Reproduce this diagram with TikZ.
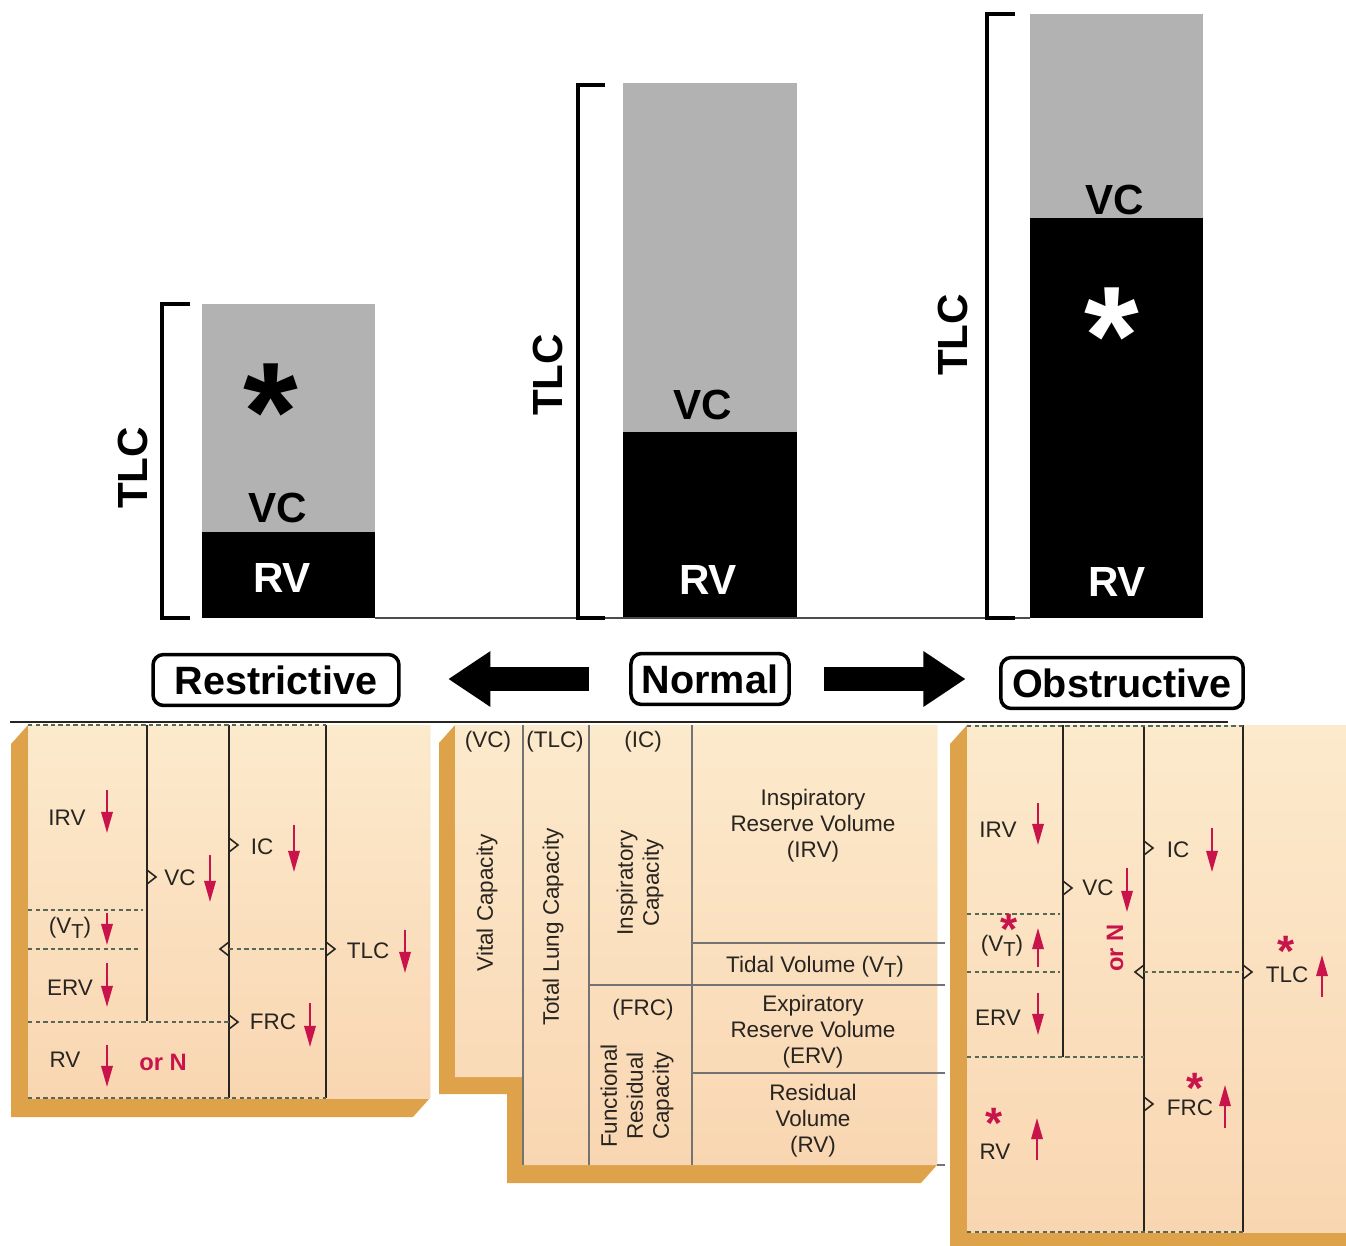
\documentclass[tikz,border=0pt]{standalone}
\usepackage{fontspec}
\setmainfont{Liberation Sans}
\usetikzlibrary{arrows.meta, positioning, calc}

\definecolor{barGray}{RGB}{178,178,178}
\definecolor{faceTop}{RGB}{252,234,204}
\definecolor{faceBot}{RGB}{249,214,178}
\definecolor{bevelOrange}{RGB}{222,163,74}
\definecolor{dashGreen}{RGB}{85,105,85}
\definecolor{changeRed}{RGB}{200,20,75}
\definecolor{inkDark}{RGB}{40,36,32}

\newcommand{\tidalV}{V\raisebox{-0.45ex}{\fontsize{11.5}{12}\selectfont T}}

\begin{document}
\begin{tikzpicture}[
	x=0.02cm, y=-0.02cm,
	bigtxt/.style={font=\fontsize{24}{26}\selectfont\bfseries, inner sep=0pt},
	caption/.style={draw, line width=2pt, rounded corners=6pt, font=\fontsize{22.5}{24}\selectfont\bfseries, minimum height=29pt, inner sep=0pt},
	lbl/.style={font=\fontsize{12.8}{14.8}\selectfont, text=inkDark, inner sep=0pt, align=center},
	rednote/.style={font=\fontsize{13.5}{15}\selectfont\bfseries, text=changeRed, inner sep=0pt},
	bigstar/.style={font=\fontsize{80}{80}\selectfont\bfseries, inner sep=0pt, anchor=north},
	redstar/.style={font=\fontsize{25}{25}\selectfont\bfseries, text=changeRed, inner sep=0pt, text height=17.9pt, text depth=-9pt},
	change/.style={changeRed, line width=1.1pt, -{Triangle[length=12pt,width=6.5pt]}},
	dsh/.style={dashGreen, line width=0.8pt, dash pattern=on 2.5pt off 1.8pt},
	wall/.style={inkDark, line width=0.9pt},
	fine/.style={black!55, line width=0.6pt},
	bracket/.style={line width=2.8pt},
	bigarrow/.style={line width=13.5pt, -{Triangle[length=24pt,width=30pt]}},
	face/.style={top color=faceTop, bottom color=faceBot}]

	\useasboundingbox (0,0) rectangle (1346,1245);
	\clip (0,0) rectangle (1346,1245);

	% ---- top bars
	\fill[barGray] (202,304) rectangle (375,532);
	\fill (202,532) rectangle (375,618);
	\fill[barGray] (623,83) rectangle (797,432);
	\fill (623,432) rectangle (797,618);
	\fill[barGray] (1030,14) rectangle (1203,218);
	\fill (1030,218) rectangle (1203,618);
	\draw[black!70, line width=0.6pt] (375,618) -- (1030,618);

	\draw[bracket] (190,304) -- (162,304) -- (162,618) -- (190,618);
	\draw[bracket] (605,85) -- (578,85) -- (578,618) -- (605,618);
	\draw[bracket] (1015,14) -- (987,14) -- (987,618) -- (1015,618);

	\node[bigtxt, rotate=90] (tlcR) at (133,468) {TLC};
	\node[bigtxt, rotate=90] (tlcN) at (548,375) {TLC};
	\node[bigtxt, rotate=90] (tlcO) at (953,335) {TLC};
	\node[bigtxt] (vcR) at (278,508) {VC};
	\node[bigtxt] (vcN) at (703,405) {VC};
	\node[bigtxt] (vcO) at (1115,200) {VC};
	\node[bigtxt, text=white] (rvR) at (282,578) {RV};
	\node[bigtxt, text=white] (rvN) at (708,580) {RV};
	\node[bigtxt, text=white] (rvO) at (1117,582) {RV};
	\node[bigstar] (starR) at (271,363) {*};
	\node[bigstar, text=white] (starO) at (1112,287) {*};

	% ---- captions and arrows
	\node[caption, minimum width=140pt] (restr) at (276,680) {Restrictive};
	\node[caption, minimum width=90pt] (norm) at (710,679) {Normal};
	\node[caption, minimum width=138pt] (obstr) at (1122,683) {Obstructive};
	\draw[bigarrow, shorten <=23pt, shorten >=27pt] (norm.west) -- (norm.west -| restr.east);
	\draw[bigarrow, shorten <=19pt, shorten >=19pt] (norm.east) -- (norm.east -| obstr.west);

	% ---- panels
	\fill[bevelOrange] (28,725) -- (11,744) -- (11,1117) -- (413,1117) -- (430,1098) -- (430,725) -- cycle;
	\shade[face] (28,725) rectangle (430,1098);
	\fill[bevelOrange] (455,725) -- (439,743) -- (439,1094) -- (507,1094) -- (507,1183) -- (921,1183) -- (937,1165) -- (937,725) -- cycle;
	\shade[face] (455,725) -- (937,725) -- (937,1165) -- (523,1165) -- (523,1077) -- (455,1077) -- cycle;
	\fill[bevelOrange] (967,725) -- (950,744) -- (950,1260) -- (1346,1260) -- (1346,725) -- cycle;
	\shade[face] (967,725) rectangle (1352,1232);
	\draw[inkDark, line width=1.2pt] (10,722) -- (1228,722);

	% ---- restrictive panel
	\draw[wall] (147,725) -- (147,1021);
	\draw[wall] (229,725) -- (229,1098);
	\draw[wall] (326,725) -- (326,1098);
	\draw[wall] (147,870) -- (156,877) -- (147,884);
	\draw[wall] (229,838) -- (238,845) -- (229,852);
	\draw[wall] (229,942) -- (220,949) -- (229,956);
	\draw[wall] (229,1015) -- (238,1022) -- (229,1029);
	\draw[wall] (326,942) -- (335,949) -- (326,956);
	\draw[dsh] (28,725) -- (326,725);
	\draw[dsh] (28,910) -- (143,910);
	\draw[dsh] (28,949) -- (138,949);
	\draw[dsh] (229,949) -- (326,949);
	\draw[dsh] (28,1022) -- (229,1022);
	\draw[dsh] (28,1098) -- (326,1098);

	\node[lbl] (rIRV) at (67,818) {IRV};
	\node[lbl] (rVC) at (180,878) {VC};
	\node[lbl] (rIC) at (262,847) {IC};
	\node[lbl] (rVT) at (70,928) {(\tidalV)};
	\node[lbl] (rERV) at (70,988) {ERV};
	\node[lbl] (rFRC) at (273,1022) {FRC};
	\node[lbl] (rRV) at (65,1060) {RV};
	\node[rednote] (rOrN) at (163,1062) {or N};
	\node[lbl] (rTLC) at (368,951) {TLC};
	\foreach \x/\ya/\yb in {107/790/833, 210/855/902, 294/825/872, 107/913/945,
		107/963/1007, 310/1003/1047, 107/1045/1087, 405/930/973}
		\draw[change] (\x,\ya) -- (\x,\yb);

	% ---- normal panel
	\draw[fine] (523,725) -- (523,1165);
	\draw[fine] (589,725) -- (589,1165);
	\draw[fine] (692,725) -- (692,1165);
	\draw[fine] (692,943) -- (945,943);
	\draw[fine] (589,985) -- (945,985);
	\draw[fine] (692,1073) -- (945,1073);
	\draw[fine] (937,1165) -- (945,1165);

	\node[lbl] (nVC) at (488,742) {(VC)};
	\node[lbl] (nTLC) at (555,742) {(TLC)};
	\node[lbl] (nIC) at (643,742) {(IC)};
	\node[lbl, rotate=90] (nVCname) at (487,903) {Vital Capacity};
	\node[lbl, rotate=90] (nTLCname) at (553,927) {Total Lung Capacity};
	\node[lbl, rotate=90] (nICname) at (640,883) {Inspiratory\\Capacity};
	\node[lbl] (nFRC) at (643,1010) {(FRC)};
	\node[lbl, rotate=90] (nFRCname) at (637,1096) {Functional\\Residual\\Capacity};
	\node[lbl] (nIRV) at (813,826) {Inspiratory\\Reserve Volume\\(IRV)};
	\node[lbl] (nVT) at (815,967) {Tidal Volume (\tidalV)};
	\node[lbl] (nERV) at (813,1032) {Expiratory\\Reserve Volume\\(ERV)};
	\node[lbl] (nRV) at (813,1121) {Residual\\Volume\\(RV)};

	% ---- obstructive panel
	\draw[wall] (1063,725) -- (1063,1057);
	\draw[wall] (1144,725) -- (1144,1232);
	\draw[wall] (1243,725) -- (1243,1232);
	\draw[wall] (1063,881) -- (1072,888) -- (1063,895);
	\draw[wall] (1144,841) -- (1153,848) -- (1144,855);
	\draw[wall] (1144,965) -- (1135,972) -- (1144,979);
	\draw[wall] (1243,965) -- (1252,972) -- (1243,979);
	\draw[wall] (1144,1097) -- (1153,1104) -- (1144,1111);
	\draw[dsh] (967,726) -- (1243,726);
	\draw[dsh] (967,914) -- (1060,914);
	\draw[dsh] (967,972) -- (1060,972);
	\draw[dsh] (1144,972) -- (1243,972);
	\draw[dsh] (967,1057) -- (1144,1057);
	\draw[dsh] (967,1232) -- (1243,1232);

	\node[lbl] (oIRV) at (998,830) {IRV};
	\node[lbl] (oVC) at (1098,888) {VC};
	\node[lbl] (oIC) at (1178,850) {IC};
	\node[lbl] (oVT) at (1002,946) {(\tidalV)};
	\node[lbl] (oERV) at (998,1018) {ERV};
	\node[lbl] (oTLC) at (1287,975) {TLC};
	\node[lbl] (oFRC) at (1190,1108) {FRC};
	\node[lbl] (oRV) at (995,1152) {RV};
	\node[rednote, rotate=90] (oOrN) at (1115,948) {or N};
	\node[redstar] (oVTstar) at (1009,929) {*};
	\node[redstar] (oTLCstar) at (1286,951) {*};
	\node[redstar] (oFRCstar) at (1195,1088) {*};
	\node[redstar] (oRVstar) at (994,1123) {*};
	\foreach \x/\ya/\yb in {1038/803/845, 1127/868/912, 1212/828/872, 1038/967/928,
		1038/993/1035, 1322/997/955, 1225/1128/1085, 1037/1160/1118}
		\draw[change] (\x,\ya) -- (\x,\yb);
\end{tikzpicture}
\end{document}
